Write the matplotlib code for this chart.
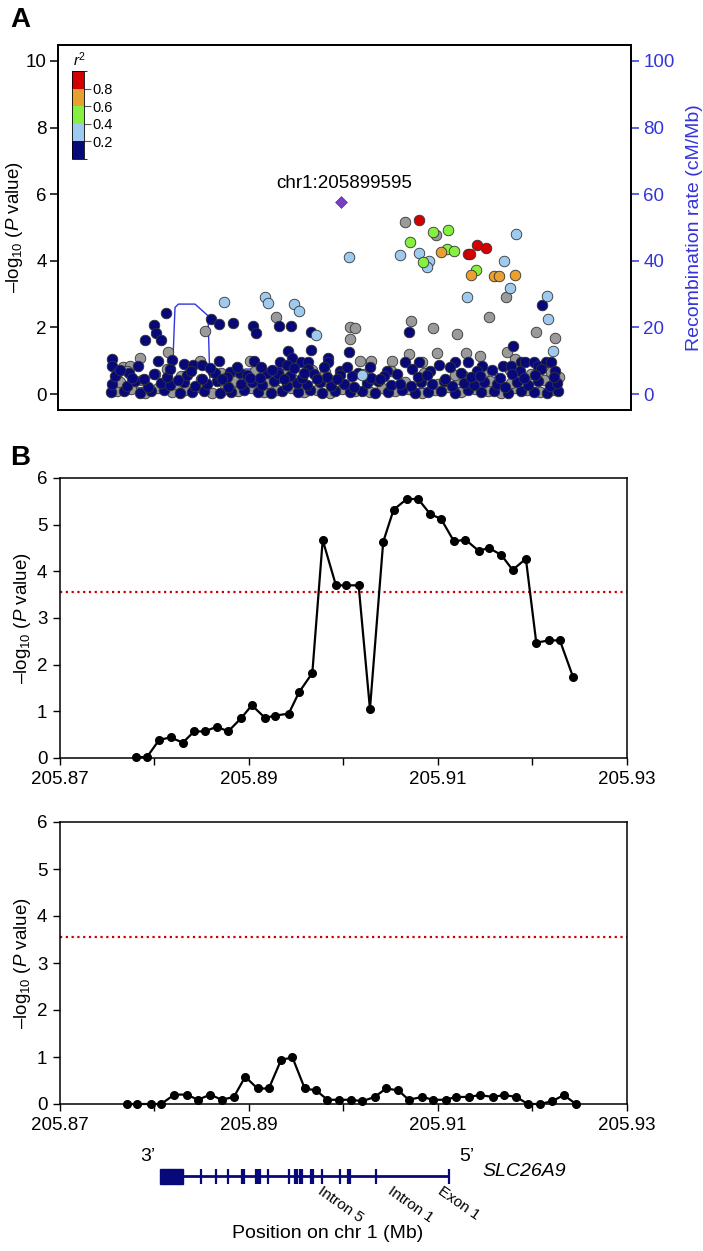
import matplotlib.pyplot as plt
from matplotlib.colors import ListedColormap, BoundaryNorm
from matplotlib.colorbar import ColorbarBase
from matplotlib.patches import Rectangle

plt.rcParams['font.family'] = ['Liberation Sans', 'DejaVu Sans']
plt.rcParams['mathtext.fontset'] = 'custom'
plt.rcParams['mathtext.rm'] = 'Liberation Sans'
plt.rcParams['mathtext.it'] = 'Liberation Sans:italic'

# ---------------- panel A data (positions in kb from the lead SNP) ----------------
lead_label = "chr1:205899595"
lead_kb = [0.0]
lead_p = [5.76]

red_kb = [54.8, 88.7, 90.3, 95.0, 101.5]
red_p = [5.23, 4.21, 4.19, 4.46, 4.39]

orange_kb = [69.8, 91.0, 107.1, 110.6, 122.0]
orange_p = [4.25, 3.56, 3.55, 3.55, 3.56]

green_kb = [48.5, 64.6, 75.1, 57.3, 74.0, 78.9, 94.3]
green_p = [4.55, 4.85, 4.93, 3.97, 4.36, 4.28, 3.72]

lblue_kb = [5.8, -82.1, -53.0, -50.9, -32.9, -29.6, -17.5, 41.3, 54.8, 61.8,
            60.4, 122.7, 113.9, 118.3, 88.0, 144.4, 145.1, 148.6, 14.5]
lblue_p = [4.11, 2.75, 2.92, 2.72, 2.70, 2.48, 1.76, 4.17, 4.22, 3.99,
           3.80, 4.81, 3.99, 3.19, 2.91, 2.94, 2.24, 1.30, 0.58]

gray_kb = [45.0, 66.5, 115.5, 103.8, 136.5, 150.0, 49.2, 64.2, 81.4, 6.3,
           9.6, 6.6, -95.4, -45.5, -121.1, -141.0, -152.4, -147.7, -122.0, 20.7,
           13.3, 35.9, 47.9, 56.5, 67.4, 87.2, 97.3, 116.0, 121.5, 152.8,
           -63.7, -98.7, -11.2,
           -157, -147, -137, -128, -118, -109, -100, -90, -81, -72,
           -63, -54, -45, -35, -26, -17, -8, 1, 10, 20,
           29, 38, 47, 57, 66, 75, 84, 94, 103, 112,
           121, 130, 139, 148,
           -155, -139, -116, -98, -74, -51, -34, -11, 5, 22,
           45, 68, 82, 104, 119, 142,
           -150, -130, -112, -84, -60, -40, -20, 16, 35, 58,
           80, 100, 118, 133, 147]
gray_p = [5.17, 4.78, 2.90, 2.30, 1.86, 1.68, 2.20, 1.97, 1.81, 2.00,
          1.97, 1.64, 1.89, 2.32, 1.26, 1.07, 0.80, 0.85, 0.75, 1.00,
          1.00, 1.00, 1.19, 0.97, 1.22, 1.22, 1.15, 1.26, 1.05, 0.52,
          0.98, 0.98, 0.67,
          0.08, 0.15, 0.03, 0.18, 0.06, 0.12, 0.20, 0.04, 0.14, 0.09,
          0.17, 0.05, 0.11, 0.19, 0.07, 0.13, 0.02, 0.16, 0.10, 0.05,
          0.18, 0.08, 0.14, 0.03, 0.12, 0.20, 0.06, 0.15, 0.09, 0.04,
          0.17, 0.11, 0.07, 0.13,
          0.35, 0.42, 0.30, 0.45, 0.38, 0.33, 0.48, 0.40, 0.28, 0.44,
          0.36, 0.31, 0.46, 0.39, 0.34, 0.43,
          0.70, 0.60, 0.55, 0.62, 0.68, 0.60, 0.72, 0.60, 0.70, 0.64,
          0.58, 0.66, 0.72, 0.60, 0.65]

navy_kb = [-122.2, -130.9, -129.2, -126.2, -136.9, -91.2, -85.3, -75.4, -61.4, -59.2,
           -43.3, -35.2, -21.0, 5.5, -37.3, -21.2, 47.4, 140.4, 120.3,
           -160.3, -160.3, -156.6, -148.4, -128.1, -118.0, -85.1, -60.9, -42.7, -34.5,
           -28.2, -23.3, -9.1, -9.1, 44.8, 54.8, 68.6, 79.8, 89.1, 98.5,
           113.7, 118.9, 125.9, 128.9, 134.8, 137.6, 143.5, 146.7,
           -109.9, -103.6, -97.5, -89.4, -77.7, -70.7, -52.0, -43.9, -38.0, -22.9,
           -0.7, 4.0, 20, 32, 50, 62, 76, 95, 106, 125, 140, 150,
           -161, -152, -141, -133, -124, -113, -104, -96, -85, -77,
           -68, -58, -49, -41, -30, -22, -13, -4, 6, 15,
           24, 33, 43, 52, 61, 70, 80, 89, 98, 107,
           117, 126, 135, 144, 152,
           -160, -150, -144, -135, -126, -120, -110, -102, -94, -87,
           -79, -70, -62, -55, -47, -38, -31, -24, -15, -7,
           2, 9, 18, 26, 35, 41, 49, 56, 64, 72,
           78, 86, 93, 100, 109, 115, 123, 131, 138, 146, 151,
           -158, -146, -131, -122, -108, -97, -88, -80, -66, -57,
           -44, -36, -27, -19, -10, -1, 12, 21, 30, 39,
           54, 60, 73, 84, 91, 97, 111, 120, 128, 136, 149,
           -155, -142, -138, -120, -114, -105, -92, -83, -73, -64,
           -56, -48, -40, -33, -26, -17, -12, -3, 8, 27]
navy_p = [2.44, 2.08, 1.84, 1.61, 1.61, 2.26, 2.09, 2.12, 2.04, 1.82,
          2.04, 2.04, 1.86, 1.26, 1.30, 1.32, 1.85, 2.68, 1.43,
          1.05, 0.83, 0.63, 0.63, 0.98, 1.01, 0.98, 0.98, 0.97, 1.07,
          0.97, 0.97, 1.07, 0.95, 0.97, 0.97, 0.86, 0.97, 0.96, 0.85,
          0.84, 0.84, 0.96, 0.96, 0.96, 0.85, 0.96, 0.96,
          0.90, 0.87, 0.88, 0.66, 0.67, 0.62, 0.64, 0.67, 0.87, 0.76,
          0.70, 0.82, 0.80, 0.70, 0.75, 0.68, 0.80, 0.70, 0.72, 0.68, 0.75, 0.70,
          0.05, 0.10, 0.02, 0.08, 0.12, 0.04, 0.06, 0.10, 0.03, 0.07,
          0.11, 0.05, 0.02, 0.09, 0.06, 0.12, 0.03, 0.08, 0.05, 0.10,
          0.02, 0.07, 0.11, 0.04, 0.06, 0.09, 0.03, 0.12, 0.05, 0.08,
          0.02, 0.10, 0.06, 0.04, 0.09,
          0.30, 0.25, 0.38, 0.22, 0.33, 0.27, 0.36, 0.24, 0.31, 0.40,
          0.21, 0.29, 0.35, 0.26, 0.39, 0.23, 0.32, 0.28, 0.37, 0.25,
          0.30, 0.22, 0.34, 0.38, 0.27, 0.31, 0.24, 0.36, 0.29, 0.40,
          0.23, 0.33, 0.26, 0.37, 0.30, 0.22, 0.35, 0.28, 0.39, 0.25, 0.32,
          0.55, 0.48, 0.60, 0.50, 0.58, 0.46, 0.63, 0.52, 0.57, 0.49,
          0.61, 0.54, 0.47, 0.59, 0.51, 0.56, 0.62, 0.48, 0.53, 0.60,
          0.50, 0.57, 0.46, 0.63, 0.52, 0.55, 0.49, 0.60, 0.47, 0.58, 0.51,
          0.72, 0.85, 0.45, 0.75, 0.42, 0.70, 0.78, 0.45, 0.82, 0.48,
          0.80, 0.72, 0.44, 0.78, 0.62, 0.45, 0.80, 0.45, 0.55, 0.45]

recomb_kb = [-161.7, -133.7, -118.3, -116.2, -113.8, -102.2, -93.1, -91.7, -68.6, -67.2,
             -60.2, -58.1, -55.3, -14.7, -7.7, 41.3, 86.1, 87.2, 88.6, 89.6,
             107.1, 108.2, 109.6, 110.6, 153.3]
recomb_rate = [1.5, 2.0, 3.0, 26.0, 27.0, 27.0, 23.5, 3.0, 3.0, 7.5,
               7.5, 4.0, 3.5, 3.5, 2.0, 1.5, 2.0, 6.5, 6.5, 2.5,
               2.5, 6.5, 6.5, 2.0, 1.5]

r2_bounds = [0, 0.2, 0.4, 0.6, 0.8, 1.0]
r2_colors = ['#07087a', '#9fcaf0', '#86f040', '#e8a030', '#d40000']

# ---------------- panel B / C data ----------------
b_pos = [205.8780, 205.8792, 205.8805, 205.8817, 205.8830, 205.8842, 205.8853, 205.8866,
         205.8878, 205.8892, 205.8903, 205.8917, 205.8928, 205.8942, 205.8953, 205.8967,
         205.8978, 205.8992, 205.9003, 205.9016, 205.9028, 205.9042, 205.9053, 205.9067,
         205.9079, 205.9092, 205.9103, 205.9117, 205.9129, 205.9143, 205.9154, 205.9167,
         205.9179, 205.9193, 205.9204, 205.9217, 205.9229, 205.9243]
b_logp = [0.02, 0.02, 0.39, 0.44, 0.33, 0.57, 0.57, 0.67, 0.57, 0.86, 1.13, 0.86, 0.91,
          0.95, 1.41, 1.82, 4.67, 3.70, 3.70, 3.70, 1.05, 4.63, 5.32, 5.55, 5.55, 5.22,
          5.13, 4.64, 4.68, 4.44, 4.50, 4.35, 4.03, 4.27, 2.47, 2.52, 2.52, 1.73]

c_pos = [205.8771, 205.8782, 205.8796, 205.8807, 205.8821, 205.8834, 205.8846, 205.8859,
         205.8871, 205.8884, 205.8896, 205.8909, 205.8921, 205.8934, 205.8946, 205.8959,
         205.8971, 205.8983, 205.8995, 205.9008, 205.9020, 205.9033, 205.9045, 205.9058,
         205.9069, 205.9083, 205.9095, 205.9108, 205.9119, 205.9133, 205.9144, 205.9158,
         205.9170, 205.9183, 205.9195, 205.9208, 205.9221, 205.9233, 205.9246]
c_logp = [0.0, 0.0, 0.0, 0.0, 0.20, 0.20, 0.09, 0.20, 0.09, 0.15, 0.58, 0.33, 0.33,
          0.94, 0.99, 0.33, 0.29, 0.09, 0.09, 0.09, 0.06, 0.15, 0.33, 0.29, 0.09, 0.15,
          0.09, 0.09, 0.15, 0.15, 0.19, 0.15, 0.19, 0.15, 0.0, 0.0, 0.06, 0.19, 0.0]

threshold = 3.56
x_ticks = [205.87, 205.88, 205.89, 205.90, 205.91, 205.92, 205.93]
x_ticklabels = ['205.87', '', '205.89', '', '205.91', '', '205.93']

# ---------------- gene model ----------------
gene_start = 205.88058
gene_end = 205.91116
utr_end = 205.88302
exons = [205.88489, 205.88651, 205.88781, 205.88922, 205.88944, 205.89074, 205.89095,
         205.89116, 205.89204, 205.89423, 205.89487, 205.89511, 205.89540, 205.89564,
         205.89653, 205.89680, 205.89769, 205.89963, 205.90044, 205.90069, 205.90344,
         205.91116]
gene_notes = ['Intron 5', 'Intron 1', 'Exon 1']
note_pos = [205.89783, 205.90524, 205.91053]

navy = '#07087a'
blue = '#3434dc'
W, H = 703, 1251

fig = plt.figure(figsize=(W / 100, H / 100), dpi=100)


def frac(x0, y0, x1, y1):
    return [x0 / W, 1 - y1 / H, (x1 - x0) / W, (y1 - y0) / H]


# ================= panel A =================
axA = fig.add_axes(frac(58, 45, 631, 410))
ax2 = axA.twinx()
ax2.set_zorder(axA.get_zorder() - 1)
axA.patch.set_visible(False)

ax2.plot(recomb_kb, recomb_rate, color=blue, lw=1.0)
ax2.set_ylim(-4.8, 104.8)
ax2.set_yticks([0, 20, 40, 60, 80, 100])
ax2.tick_params(axis='y', colors=blue, labelsize=13.5, length=6, width=1.1, pad=3)
ax2.set_ylabel('Recombination rate (cM/Mb)', color=blue, fontsize=14, labelpad=8)

kw = dict(s=58, edgecolors='#333333', linewidths=0.6, zorder=3)
axA.scatter(gray_kb, gray_p, c='#9a9a9a', **kw)
axA.scatter(navy_kb, navy_p, c=r2_colors[0], **kw)
axA.scatter(lblue_kb, lblue_p, c=r2_colors[1], **kw)
axA.scatter(green_kb, green_p, c=r2_colors[2], **kw)
axA.scatter(orange_kb, orange_p, c=r2_colors[3], **kw)
axA.scatter(red_kb, red_p, c=r2_colors[4], **kw)
axA.scatter(lead_kb, lead_p, marker='D', s=36, c='#7a3fc0', edgecolors='#5a2a9a',
            linewidths=0.5, zorder=4)
axA.text(lead_kb[0] + 2, lead_p[0] + 0.43, lead_label, ha='center', va='baseline',
         fontsize=13.5)

axA.set_xlim(-198.1, 203.0)
axA.set_ylim(-0.48, 10.48)
axA.set_yticks([0, 2, 4, 6, 8, 10])
axA.set_xticks([])
axA.tick_params(axis='y', labelsize=13.5, length=6, width=1.1, pad=2)
axA.set_ylabel('–log$_{10}$ ($P$ value)', fontsize=13.5, labelpad=1)
for sp in list(axA.spines.values()) + list(ax2.spines.values()):
    sp.set_linewidth(1.3)

# r2 legend
cax = fig.add_axes(frac(72, 71, 84, 159))
cb = ColorbarBase(cax, cmap=ListedColormap(r2_colors), norm=BoundaryNorm(r2_bounds, 5),
                  ticks=[0.2, 0.4, 0.6, 0.8], orientation='vertical')
cb.outline.set_linewidth(0.6)
cax.tick_params(labelsize=10.5, length=5, width=0.8, pad=1, color='#555555')
cax.yaxis.set_ticklabels(['0.2', '0.4', '0.6', '0.8'])
fig.text(80 / W, 1 - 60 / H, '$r^2$', ha='center', va='center', fontsize=11)

fig.text(10 / W, 1 - 27 / H, 'A', fontsize=20, fontweight='bold', va='baseline')
fig.text(10 / W, 1 - 465 / H, 'B', fontsize=20, fontweight='bold', va='baseline')


# ================= panels B and C =================
def assoc_panel(ax, pos, logp):
    ax.plot(pos, logp, color='black', lw=1.6, marker='o', ms=5.5, clip_on=False, zorder=3)
    ax.axhline(threshold, color='#cc0000', lw=1.6, ls=(0, (1, 1.6)))
    ax.set_xlim(x_ticks[0], x_ticks[-1])
    ax.set_ylim(0, 6)
    ax.set_yticks(range(7))
    ax.set_xticks(x_ticks)
    ax.set_xticklabels(x_ticklabels)
    ax.tick_params(labelsize=13.5, length=5, width=1.0, pad=4)
    ax.set_ylabel('–log$_{10}$ ($P$ value)', fontsize=13.5, labelpad=3)
    for sp in ax.spines.values():
        sp.set_linewidth(1.1)


axB = fig.add_axes(frac(60, 478, 627, 758))
assoc_panel(axB, b_pos, b_logp)
axC = fig.add_axes(frac(60, 822, 627, 1104))
assoc_panel(axC, c_pos, c_logp)

# ================= gene model =================
axG = fig.add_axes(frac(60, 1140, 627, 1200))
axG.set_xlim(x_ticks[0], x_ticks[-1])
axG.set_ylim(0, 1)
axG.axis('off')
axG.hlines(0.392, gene_start, gene_end, color=navy, lw=2)
axG.vlines(exons, 0.267, 0.517, color=navy, lw=1.6)
axG.add_patch(Rectangle((gene_start, 0.267), utr_end - gene_start, 0.25, color=navy))
axG.text(gene_start - 0.0013, 0.72, '3’', ha='center', va='center', fontsize=14)
axG.text(gene_end + 0.0019, 0.72, '5’', ha='center', va='center', fontsize=14)
axG.text(205.91466, 0.467, 'SLC26A9', style='italic', ha='left', va='center', fontsize=14)
for name, x in zip(gene_notes, note_pos):
    axG.text(x, 0.26, name, rotation=-35, rotation_mode='anchor', ha='left', va='top',
             fontsize=11)
fig.text(328 / W, 1 - 1233 / H, 'Position on chr 1 (Mb)', ha='center', va='center',
         fontsize=14)

fig.savefig('out.png', dpi=100)
